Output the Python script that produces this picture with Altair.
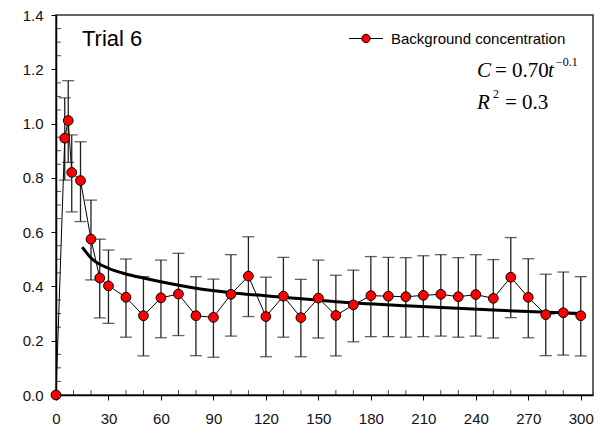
import altair as alt
import pandas as pd

# ---- data ----
time_min = [0, 5, 7, 9, 14, 20, 25, 30, 40, 50, 60, 70, 80, 90, 100, 110, 120, 130,
            140, 150, 160, 170, 180, 190, 200, 210, 220, 230, 240, 250, 260, 270,
            280, 290, 300]
concentration = [0.0, 0.946, 1.011, 0.82, 0.79, 0.574, 0.431, 0.402, 0.36, 0.292,
                 0.358, 0.372, 0.292, 0.286, 0.371, 0.438, 0.289, 0.364, 0.285, 0.357,
                 0.293, 0.332, 0.366, 0.364, 0.362, 0.367, 0.371, 0.362, 0.37, 0.356,
                 0.434, 0.36, 0.296, 0.303, 0.292]
err_upper = [None, 1.095, 1.158, 0.958, 0.933, 0.718, 0.574, 0.534, 0.501, 0.436,
             0.497, 0.522, 0.436, 0.427, 0.517, 0.583, 0.434, 0.507, 0.426, 0.497,
             0.441, 0.46, 0.51, 0.507, 0.506, 0.513, 0.517, 0.506, 0.517, 0.499,
             0.58, 0.502, 0.445, 0.453, 0.436]
err_lower = [None, 0.792, 0.857, 0.675, 0.639, 0.424, 0.284, 0.264, 0.213, 0.144,
             0.211, 0.219, 0.145, 0.139, 0.217, 0.289, 0.141, 0.213, 0.141, 0.21,
             0.144, 0.196, 0.215, 0.215, 0.213, 0.215, 0.217, 0.213, 0.217, 0.21,
             0.285, 0.211, 0.145, 0.147, 0.144]

fit_time = [15, 20, 30, 40, 50, 60, 80, 100, 130, 160, 200, 250, 300]
fit_conc = [0.545, 0.505, 0.467, 0.446, 0.431, 0.417, 0.393, 0.377, 0.36, 0.344,
            0.329, 0.313, 0.300]

x_major = [0, 30, 60, 90, 120, 150, 180, 210, 240, 270, 300]
x_minor = [10, 20, 40, 50, 70, 80, 100, 110, 130, 140, 160, 170, 190, 200, 220,
           230, 250, 260, 280, 290]
y_major = [0.0, 0.2, 0.4, 0.6, 0.8, 1.0, 1.2, 1.4]
y_minor = [0.05, 0.1, 0.15, 0.25, 0.3, 0.35, 0.45, 0.5, 0.55, 0.65, 0.7, 0.75,
           0.85, 0.9, 0.95, 1.05, 1.1, 1.15, 1.25, 1.3, 1.35]

df = pd.DataFrame({"t": time_min, "c": concentration,
                   "hi": err_upper, "lo": err_lower})
df_err = df.dropna()
df_fit = pd.DataFrame({"t": fit_time, "c": fit_conc})
df_xminor = pd.DataFrame({"v": x_minor})
df_yminor = pd.DataFrame({"v": y_minor})

SANS = "Liberation Sans"
SERIF = "Liberation Serif"
W, H = 537, 380

xs = alt.Scale(domain=[0, 307], nice=False, zero=False)
ys = alt.Scale(domain=[0, 1.4], nice=False, zero=False)

XA = alt.Axis(values=x_major, tickSize=5, tickColor="black", tickWidth=1,
              domain=True, domainColor="black", domainWidth=1.5,
              labelFont=SANS, labelFontSize=15, labelColor="#111",
              labelPadding=11, labelFlush=False, grid=False, title=None,
              format="d", orient="bottom")
YA = alt.Axis(values=y_major, tickSize=5, tickColor="black", tickWidth=1,
              domain=True, domainColor="black", domainWidth=1.5,
              labelFont=SANS, labelFontSize=15, labelColor="#111",
              labelPadding=8, labelFlush=False, grid=False, title=None,
              format=".1f", orient="left")

def X(f):
    return alt.X(f, type="quantitative", scale=xs, axis=XA)

def Y(f):
    return alt.Y(f, type="quantitative", scale=ys, axis=YA)

bars = alt.Chart(df_err).mark_rule(color="#222", strokeWidth=1.3).encode(
    x=X("t"), y=Y("lo"), y2="hi")
cap_hi = alt.Chart(df_err).mark_tick(orient="horizontal", size=12, thickness=1.3,
                                     color="#222").encode(x=X("t"), y=Y("hi"))
cap_lo = alt.Chart(df_err).mark_tick(orient="horizontal", size=12, thickness=1.3,
                                     color="#222").encode(x=X("t"), y=Y("lo"))
# inward minor ticks
xminor = alt.Chart(df_xminor).mark_tick(orient="vertical", size=5, thickness=1,
                                        color="black").encode(
    x=X("v"), y=alt.value(H - 2.5))
yminor = alt.Chart(df_yminor).mark_tick(orient="horizontal", size=5, thickness=1,
                                        color="black").encode(
    y=Y("v"), x=alt.value(2.5))
conn = alt.Chart(df).mark_line(color="black", strokeWidth=1).encode(
    x=X("t"), y=Y("c"))
fit = alt.Chart(df_fit).mark_line(color="black", strokeWidth=3,
                                  interpolate="monotone").encode(
    x=X("t"), y=Y("c"))
pts = alt.Chart(df).mark_point(filled=True, fill="#ff0000", stroke="black",
                               strokeWidth=1, size=95, opacity=1).encode(
    x=X("t"), y=Y("c"))

def txt(s, x, y, size, font=SANS, style="normal", align="left", baseline="alphabetic"):
    return alt.Chart(pd.DataFrame({"s": [s]})).mark_text(
        font=font, fontSize=size, fontStyle=style, align=align, baseline=baseline,
        color="black").encode(x=alt.value(x), y=alt.value(y), text="s:N")

trial = txt("Trial 6", 26, 31, 22)
leg_line = alt.Chart(pd.DataFrame({"a": [0]})).mark_rule(color="black", strokeWidth=1).encode(
    x=alt.value(293), x2=alt.value(327), y=alt.value(23.5))
leg_pt = alt.Chart(pd.DataFrame({"a": [0]})).mark_point(
    filled=True, fill="#ff0000", stroke="black", strokeWidth=1, size=70, opacity=1
).encode(x=alt.value(310), y=alt.value(23.5))
leg_txt = txt("Background concentration", 335, 24, 15, baseline="middle")

eq_c = txt("C", 421, 62, 21, font=SERIF, style="italic")
eq_mid = txt("= 0.70", 439, 62, 21, font=SERIF)
eq_t = txt("t", 492, 62, 21, font=SERIF, style="italic")
eq_exp = txt("\u22120.1", 500, 51, 12, font=SERIF)
r_r = txt("R", 421, 94, 21, font=SERIF, style="italic")
r_2 = txt("2", 437, 83, 12, font=SERIF)
r_rest = txt("= 0.3", 449, 94, 21, font=SERIF)

chart = alt.layer(
    bars, cap_hi, cap_lo, xminor, yminor, conn, fit, pts,
    trial, leg_line, leg_pt, leg_txt,
    eq_c, eq_mid, eq_t, eq_exp, r_r, r_2, r_rest,
).properties(
    width=W, height=H,
    autosize=alt.AutoSizeParams(type="none"),
    padding={"left": 56, "top": 15, "right": 6, "bottom": 35},
    background="white",
).configure_view(stroke="#333", strokeWidth=1.5)

chart.save("out.html", embed_options={"renderer": "svg", "actions": False})
